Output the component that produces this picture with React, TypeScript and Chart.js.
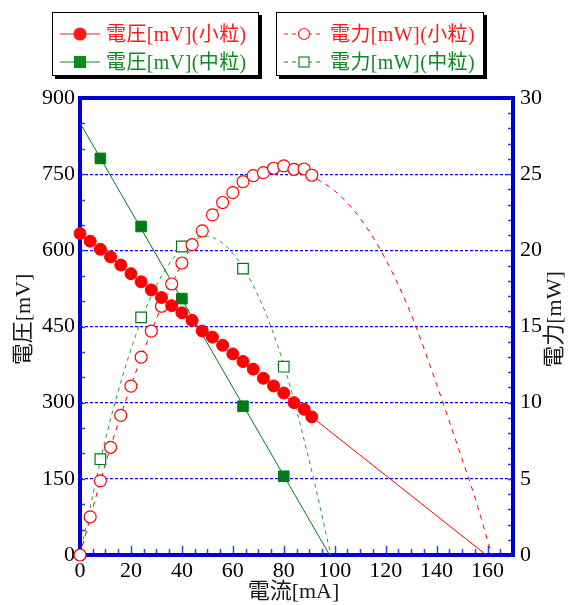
import React, { useEffect, useRef } from 'react';
import { Chart, registerables } from 'chart.js';

Chart.register(...registerables);

// ---- data ----
const smallCurrent = [0, 4, 8, 12, 16, 20, 24, 28, 32, 36, 40, 44, 48, 52, 56, 60, 64, 68, 72, 76, 80, 84, 88, 91];
const smallVoltage = [633, 618, 602, 587, 571, 554, 538, 522, 507, 491, 477, 462, 441, 429, 413, 396, 381, 366, 348, 333, 319, 300, 287, 272];
const smallPower = [0, 2.5, 4.87, 7.07, 9.17, 11.09, 12.99, 14.7, 16.33, 17.79, 19.17, 20.37, 21.28, 22.33, 23.14, 23.79, 24.51, 24.9, 25.1, 25.39, 25.54, 25.32, 25.34, 24.93];

const mediumCurrent = [8, 24, 40, 64, 80];
const mediumVoltage = [781, 647, 505, 293, 155];
const mediumPower = [6.29, 15.6, 20.25, 18.8, 12.36];

const smallVoltageFitX = [0, 159.5];
const smallVoltageFitY = [633, 0];
const mediumVoltageFitX = [0, 98];
const mediumVoltageFitY = [851, 0];

const smallPowerFitX = [0, 10, 20, 30, 40, 50, 60, 70, 80, 90, 100, 110, 120, 130, 140, 150, 155, 161.7];
const smallPowerFitY = [0, 6.0, 11.1, 15.5, 19.1, 21.8, 23.8, 25.0, 25.4, 24.9, 23.9, 22.1, 19.4, 15.8, 11.2, 6.3, 3.8, 0];
const mediumPowerFitX = [0, 10, 20, 30, 40, 50, 60, 70, 80, 90, 98.5];
const mediumPowerFitY = [0, 7.6, 13.5, 17.7, 20.1, 20.9, 19.8, 17.0, 12.5, 6.2, 0];

const xTickValues = [0, 20, 40, 60, 80, 100, 120, 140, 160];
const leftTickValues = [0, 150, 300, 450, 600, 750, 900];
const rightTickValues = [0, 5, 10, 15, 20, 25, 30];

const xTitle = '電流[mA]';
const leftTitle = '電圧[mV]';
const rightTitle = '電力[mW]';

const legendLeft = [
  { label: '電圧[mV](小粒)', color: '#ff1a1a', marker: 'circle', filled: true, dashed: false },
  { label: '電圧[mV](中粒)', color: '#108a20', marker: 'square', filled: true, dashed: false },
];
const legendRight = [
  { label: '電力[mW](小粒)', color: '#ff1a1a', marker: 'circle', filled: false, dashed: true },
  { label: '電力[mW](中粒)', color: '#108a20', marker: 'square', filled: false, dashed: true },
];

const zip = (xs: number[], ys: number[]) => xs.map((x, i) => ({ x, y: ys[i] }));

const RED = '#ff0000';
const GREEN = '#007a1a';
const GREEN_DASH = '#2a9a35';
const AXIS_BLUE = '#0000d0';
const FONT = '"Liberation Serif", "Noto Sans CJK JP", serif';

const framePlugin = {
  id: 'frame',
  beforeDatasetsDraw(chart: any) {
    const { ctx, chartArea, scales } = chart;
    const { left, right, top, bottom } = chartArea;
    ctx.save();
    ctx.strokeStyle = '#3a3aff';
    ctx.lineWidth = 1.5;
    ctx.beginPath();
    for (let v = 5; v < 170; v += 5) {
      const px = Math.round(scales.x.getPixelForValue(v)) + 0.5;
      const len = v % 20 === 0 ? 7 : 4;
      ctx.moveTo(px, bottom - 2);
      ctx.lineTo(px, bottom - 2 - len);
    }
    for (let v = 50; v < 900; v += 50) {
      const py = Math.round(scales.y.getPixelForValue(v)) + 0.5;
      ctx.moveTo(left + 2, py);
      ctx.lineTo(left + 5, py);
    }
    for (let v = 1; v < 30; v += 1) {
      const py = Math.round(scales.y1.getPixelForValue(v)) + 0.5;
      ctx.moveTo(right - 2, py);
      ctx.lineTo(right - 5, py);
    }
    ctx.stroke();
    ctx.strokeStyle = AXIS_BLUE;
    ctx.lineWidth = 4;
    ctx.strokeRect(left, top, right - left, bottom - top);
    ctx.restore();
  },
  afterDraw(chart: any) {
    const { ctx, chartArea } = chart;
    const { left, right, top, bottom } = chartArea;
    ctx.save();
    ctx.fillStyle = '#1a1a1a';
    ctx.font = '22px ' + FONT;
    ctx.textAlign = 'center';
    ctx.textBaseline = 'middle';
    ctx.fillText(xTitle, (left + right) / 2 - 3, 592);
    const midY = (top + bottom) / 2 - 7;
    ctx.save();
    ctx.translate(24, midY);
    ctx.rotate(-Math.PI / 2);
    ctx.fillText(leftTitle, 0, 0);
    ctx.restore();
    ctx.save();
    ctx.translate(555, midY);
    ctx.rotate(-Math.PI / 2);
    ctx.fillText(rightTitle, 0, 0);
    ctx.restore();
    ctx.restore();
  },
};

function LegendSample({ color, marker, filled, dashed }: any) {
  return (
    <svg width={40} height={28} style={{ display: 'block' }}>
      <line x1={0} y1={14} x2={40} y2={14} stroke={color} strokeWidth={1.2} strokeDasharray={dashed ? '4 4' : undefined} />
      {marker === 'circle' ? (
        <circle cx={20} cy={14} r={filled ? 6 : 5.5} fill={filled ? color : '#fff'} stroke={color} strokeWidth={1.2} />
      ) : (
        <rect x={filled ? 14.5 : 15} y={filled ? 8.5 : 9} width={filled ? 11 : 10} height={filled ? 11 : 10} fill={filled ? color : '#fff'} stroke={color} strokeWidth={1.2} />
      )}
    </svg>
  );
}

function LegendBox({ left, width, items }: any) {
  return (
    <div
      style={{
        position: 'absolute',
        left,
        top: 12,
        width,
        height: 64,
        boxSizing: 'border-box',
        border: '1px solid #000',
        boxShadow: '3px 3px 0 #000',
        background: '#fff',
      }}
    >
      {items.map((it: any, i: number) => (
        <div key={i} style={{ position: 'absolute', left: 7, top: i === 0 ? 7 : 35, height: 28, display: 'flex', alignItems: 'center', whiteSpace: 'nowrap' }}>
          <LegendSample {...it} />
          <span style={{ marginLeft: 6, font: '20px ' + FONT, color: it.color, lineHeight: '28px', letterSpacing: '0.4px' }}>{it.label}</span>
        </div>
      ))}
    </div>
  );
}

export default function App() {
  const canvasRef = useRef<HTMLCanvasElement | null>(null);

  useEffect(() => {
    const canvas = canvasRef.current;
    if (!canvas) return;
    const tickFont = { family: FONT, size: 22 };
    const chart = new Chart(canvas, {
      type: 'line',
      data: {
        datasets: [
          {
            label: '電圧[mV](小粒)',
            data: zip(smallCurrent, smallVoltage),
            yAxisID: 'y',
            showLine: false,
            pointStyle: 'circle',
            pointRadius: 6,
            pointBackgroundColor: RED,
            pointBorderColor: RED,
            pointBorderWidth: 1,
            clip: false,
          },
          {
            label: '電圧[mV](中粒)',
            data: zip(mediumCurrent, mediumVoltage),
            yAxisID: 'y',
            showLine: false,
            pointStyle: 'rect',
            pointRadius: 7.5,
            pointBackgroundColor: GREEN,
            pointBorderColor: GREEN,
            pointBorderWidth: 1,
            clip: false,
          },
          {
            label: '電力[mW](小粒)',
            data: zip(smallCurrent, smallPower),
            yAxisID: 'y1',
            showLine: false,
            pointStyle: 'circle',
            pointRadius: 6,
            pointBackgroundColor: '#ffffff',
            pointBorderColor: RED,
            pointBorderWidth: 1.2,
            clip: false,
          },
          {
            label: '電力[mW](中粒)',
            data: zip(mediumCurrent, mediumPower),
            yAxisID: 'y1',
            showLine: false,
            pointStyle: 'rect',
            pointRadius: 7.5,
            pointBackgroundColor: '#ffffff',
            pointBorderColor: GREEN,
            pointBorderWidth: 1.2,
            clip: false,
          },
          {
            label: 'fitV small',
            data: zip(smallVoltageFitX, smallVoltageFitY),
            yAxisID: 'y',
            borderColor: RED,
            borderWidth: 1,
            pointRadius: 0,
          },
          {
            label: 'fitV medium',
            data: zip(mediumVoltageFitX, mediumVoltageFitY),
            yAxisID: 'y',
            borderColor: GREEN,
            borderWidth: 1,
            pointRadius: 0,
          },
          {
            label: 'fitP small',
            data: zip(smallPowerFitX, smallPowerFitY),
            yAxisID: 'y1',
            borderColor: RED,
            borderWidth: 1,
            borderDash: [5, 5],
            cubicInterpolationMode: 'monotone',
            pointRadius: 0,
          },
          {
            label: 'fitP medium',
            data: zip(mediumPowerFitX, mediumPowerFitY),
            yAxisID: 'y1',
            borderColor: GREEN_DASH,
            borderWidth: 1,
            borderDash: [4, 4],
            cubicInterpolationMode: 'monotone',
            pointRadius: 0,
          },
        ],
      },
      options: {
        animation: false,
        responsive: false,
        maintainAspectRatio: false,
        layout: { padding: { top: 98, left: 0, right: 0, bottom: 0 } },
        plugins: { legend: { display: false }, tooltip: { enabled: false } },
        scales: {
          x: {
            type: 'linear',
            min: 0,
            max: 170,
            afterBuildTicks: (s: any) => {
              s.ticks = xTickValues.map((v) => ({ value: v }));
            },
            afterFit: (s: any) => {
              s.height = 50;
            },
            ticks: { font: tickFont, color: '#000', padding: 3, maxRotation: 0, autoSkip: false },
            grid: { display: false, drawTicks: false },
            border: { display: false },
          },
          y: {
            type: 'linear',
            position: 'left',
            min: 0,
            max: 900,
            afterBuildTicks: (s: any) => {
              s.ticks = leftTickValues.map((v) => ({ value: v }));
            },
            afterFit: (s: any) => {
              s.width = 80;
            },
            ticks: { font: tickFont, color: '#000', padding: 5, autoSkip: false },
            grid: {
              drawTicks: false,
              lineWidth: 1.2,
              color: (ctx: any) => (ctx.tick && (ctx.tick.value === 0 || ctx.tick.value === 900) ? 'rgba(0,0,0,0)' : '#0000ff'),
            },
            border: { display: false, dash: [3, 2] },
          },
          y1: {
            type: 'linear',
            position: 'right',
            min: 0,
            max: 30,
            afterBuildTicks: (s: any) => {
              s.ticks = rightTickValues.map((v) => ({ value: v }));
            },
            afterFit: (s: any) => {
              s.width = 55;
            },
            ticks: { font: tickFont, color: '#000', padding: 7, autoSkip: false },
            grid: { display: false, drawTicks: false },
            border: { display: false },
          },
        },
      },
      plugins: [framePlugin],
    } as any);
    return () => chart.destroy();
  }, []);

  return (
    <div style={{ position: 'fixed', left: 0, top: 0, width: 568, height: 605, background: '#fff' }}>
      <canvas ref={canvasRef} width={568} height={605} style={{ display: 'block', width: 568, height: 605 }} />
      <LegendBox left={52} width={207} items={legendLeft} />
      <LegendBox left={276} width={208} items={legendRight} />
    </div>
  );
}
